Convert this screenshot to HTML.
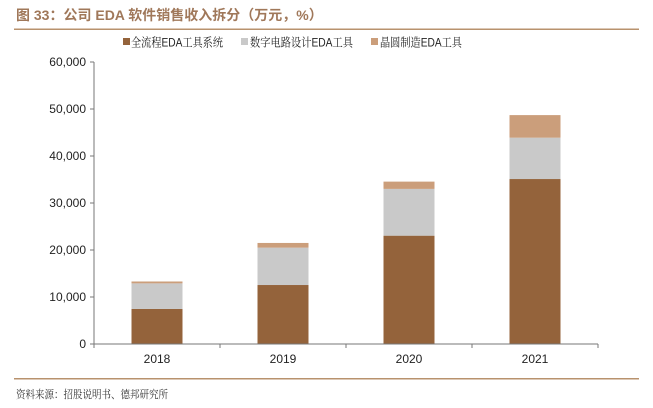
<!DOCTYPE html>
<html><head><meta charset="utf-8"><style>
body{margin:0;width:653px;height:408px;background:#fff;overflow:hidden;font-family:"Liberation Sans","Noto Sans CJK SC",sans-serif}
svg{display:block}
</style></head><body>
<svg id="c" width="653" height="408">
<text x="16" y="20" font-size="14" font-weight="bold" fill="#a0785a" font-family="Liberation Sans, Noto Sans CJK SC, sans-serif">图 33：公司 EDA 软件销售收入拆分（万元，%）</text>
<rect x="14" y="28.5" width="625" height="1.5" fill="#b8926d"/>
<g font-size="12" fill="#222" font-family="Liberation Sans, Noto Serif CJK SC, serif">
<g><rect x="123" y="38" width="7" height="7" fill="#94633b"/><text x="131" y="46.5" textLength="92" lengthAdjust="spacingAndGlyphs">全流程EDA工具系统</text></g>
<g><rect x="241" y="38" width="7" height="7" fill="#c9c9c9"/><text x="250" y="46.5" textLength="103" lengthAdjust="spacingAndGlyphs">数字电路设计EDA工具</text></g>
<g><rect x="371" y="38" width="7" height="7" fill="#cb9e7b"/><text x="380" y="46.5" textLength="82" lengthAdjust="spacingAndGlyphs">晶圆制造EDA工具</text></g>
</g>
<g id="plot"></g>
<rect x="14" y="378" width="625" height="1.5" fill="#b8926d"/>
<text x="16" y="398" font-size="11" fill="#333" font-family="Liberation Serif, Noto Serif CJK SC, serif" textLength="152" lengthAdjust="spacingAndGlyphs">资料来源：招股说明书、德邦研究所</text>
</svg>
<script>
const categories=["2018","2019","2020","2021"];
const fullFlow=[7450,12550,23050,35100];
const digital=[5450,7950,9950,8800];
const wafer=[400,1000,1550,4800];
const yTicks=[0,10000,20000,30000,40000,50000,60000];
const yTickLabels=["0","10,000","20,000","30,000","40,000","50,000","60,000"];
const NS="http://www.w3.org/2000/svg";
const g=document.getElementById('plot');
const x0=94,x1=598,y0=344,yTop=62,yMax=60000;
const y=v=>y0-(v/yMax)*(y0-yTop);
const band=(x1-x0)/categories.length;
function mk(t,a,p){const e=document.createElementNS(NS,t);for(const k in a)e.setAttribute(k,a[k]);(p||g).appendChild(e);return e;}
let ax=mk('line',{x1:x0,y1:yTop,x2:x0,y2:y0,stroke:'#777','stroke-width':1});


yTicks.forEach((v,i)=>{
 let t=mk('line',{x1:x0-4,y1:y(v),x2:x0,y2:y(v),stroke:'#777'});
 
 
 let l=mk('text',{x:x0-8,y:y(v)+4,'text-anchor':'end','font-size':12,fill:'#222'});
 l.textContent=yTickLabels[i];
 
 
});
const series=[[fullFlow,'#94633b','full-flow'],[digital,'#c9c9c9','digital'],[wafer,'#cb9e7b','wafer']];
categories.forEach((c,i)=>{
 const cx=x0+band*(i+0.5),w=51;
 let base=0;
 series.forEach(([arr,col,nm])=>{
  const v=arr[i];
  let r=mk('rect',{x:cx-w/2,y:y(base+v),width:w,height:y(base)-y(base+v),fill:col});
  
  
  base+=v;
 });
 let l=mk('text',{x:cx,y:y0+19,'text-anchor':'middle','font-size':12,fill:'#222'});
 l.textContent=c;
 
 
});
let xa=mk('line',{x1:x0,y1:y0,x2:x1,y2:y0,stroke:'#777','stroke-width':1});


for(let i=0;i<=categories.length;i++){
 let t=mk('line',{x1:x0+band*i,y1:y0,x2:x0+band*i,y2:y0+4,stroke:'#777'});
 
 
}
</script>
</body></html>
